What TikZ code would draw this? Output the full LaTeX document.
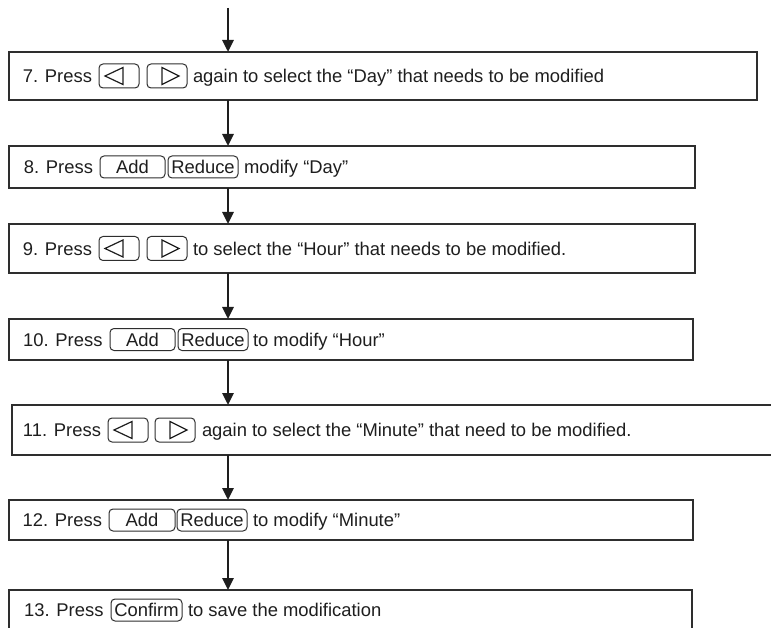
\documentclass[tikz,border=0pt]{standalone}
\usepackage{fontspec}
\setmainfont{Liberation Sans}
\usetikzlibrary{arrows.meta,calc}
\definecolor{ink}{HTML}{1E1E1E}
\definecolor{edge}{HTML}{2E2E2E}
\begin{document}
\begin{tikzpicture}[x=1pt,y=-1pt,
  stepbox/.style={draw=edge,line width=2pt,rectangle,inner sep=0pt,outer sep=0pt},
  lbl/.style={anchor=base west,inner sep=0pt,outer sep=0pt,text=ink,font=\fontsize{18.4}{20}\selectfont},
  lead/.style={lbl,anchor=base east},
  btn/.style={draw=edge,line width=1pt,rounded corners=4pt,inner sep=0pt,text=ink,font=\fontsize{18.4}{20}\selectfont},
  arrowkey/.style={btn,minimum width=40pt,minimum height=24pt},
  wordkey/.style={btn,minimum height=22pt},
  tri/.style={draw=ink,line width=1.2pt,line join=miter},
  flow/.style={draw=ink,line width=2.8pt,-{Triangle[width=11pt,length=12pt]}}
]
\useasboundingbox (0,0) rectangle (771,628);
\clip (0,0) rectangle (771,628);
\coordinate (ax) at (228,0);
\coordinate (start) at (228,8);

% boxes
\node[stepbox,minimum width=748pt,minimum height=48pt] (b7) at (383,76) {};
\node[stepbox,minimum width=686pt,minimum height=42pt] (b8) at (352,167) {};
\node[stepbox,minimum width=686pt,minimum height=49pt] (b9) at (352,248.5) {};
\node[stepbox,minimum width=684pt,minimum height=41pt] (b10) at (351,339.5) {};
\node[stepbox,minimum width=778pt,minimum height=50pt] (b11) at (401,430) {};
\node[stepbox,minimum width=684pt,minimum height=40pt] (b12) at (351,520) {};
\node[stepbox,minimum width=683pt,minimum height=60pt] (b13) at (350.5,620) {};

% row 7
\node[lead] (t7a) at (92,82.6) {7. Press};
\node[arrowkey] (k7l) at (119,76) {};
\node[arrowkey] (k7r) at (167,76) {};
\node[lbl] (t7b) at (193,82.6) {again to select the “Day” that needs to be modified};
% row 8
\node[lead] (t8a) at (93,173.6) {8. Press};
\node[wordkey,minimum width=65pt] (k8a) at (132.5,167) {Add};
\node[wordkey,minimum width=70pt] (k8r) at (203,167) {Reduce};
\node[lbl] (t8b) at (244,173.6) {modify “Day”};
% row 9
\node[lead] (t9a) at (92,255.1) {9. Press};
\node[arrowkey] (k9l) at (119,248.5) {};
\node[arrowkey] (k9r) at (167,248.5) {};
\node[lbl] (t9b) at (193,255.1) {to select the “Hour” that needs to be modified.};
% row 10
\node[lead] (t10a) at (102.5,346.1) {10. Press};
\node[wordkey,minimum width=65pt] (k10a) at (142.5,339.5) {Add};
\node[wordkey,minimum width=70pt] (k10r) at (213,339.5) {Reduce};
\node[lbl] (t10b) at (253,346.1) {to modify “Hour”};
% row 11
\node[lead] (t11a) at (101,436.6) {11. Press};
\node[arrowkey] (k11l) at (128,430) {};
\node[arrowkey] (k11r) at (175,430) {};
\node[lbl] (t11b) at (202,436.6) {again to select the “Minute” that need to be modified.};
% row 12
\node[lead] (t12a) at (102,526.6) {12. Press};
\node[wordkey,minimum width=66pt] (k12a) at (142,520) {Add};
\node[wordkey,minimum width=70pt] (k12r) at (212,520) {Reduce};
\node[lbl] (t12b) at (253,526.6) {to modify “Minute”};
% row 13
\node[lead] (t13a) at (103.5,616.6) {13. Press};
\node[wordkey,minimum width=71pt] (k13c) at (146.5,610) {Confirm};
\node[lbl] (t13b) at (188,616.6) {to save the modification};

% triangles in arrow keys
\foreach \k in {k7l,k9l,k11l}{
  \draw[tri] ($(\k.center)+(-14,0)$) -- ($(\k.center)+(4,-8.5)$) -- ($(\k.center)+(4,8.5)$) -- cycle;
}
\foreach \k in {k7r,k9r,k11r}{
  \draw[tri] ($(\k.center)+(12,0)$) -- ($(\k.center)+(-5,-8.5)$) -- ($(\k.center)+(-5,8.5)$) -- cycle;
}

% connectors
\draw[flow] (start) -- (b7.north -| ax);
\draw[flow] (b7.south -| ax) -- (b8.north -| ax);
\draw[flow] (b8.south -| ax) -- (b9.north -| ax);
\draw[flow] (b9.south -| ax) -- (b10.north -| ax);
\draw[flow] (b10.south -| ax) -- (b11.north -| ax);
\draw[flow] (b11.south -| ax) -- (b12.north -| ax);
\draw[flow] (b12.south -| ax) -- (b13.north -| ax);
\end{tikzpicture}
\end{document}
